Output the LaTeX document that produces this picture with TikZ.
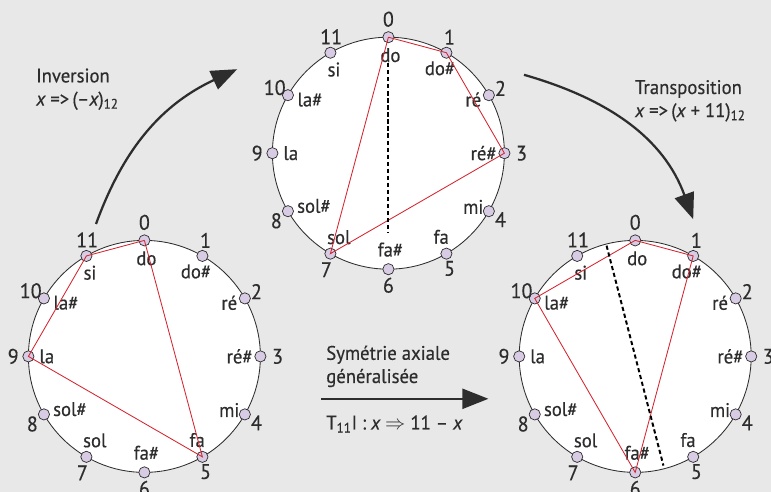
\documentclass[tikz,border=0pt]{standalone}
\usepackage{fontspec}
\setmainfont{PT Sans}[FakeStretch=0.95,FakeBold=0.4]
\usetikzlibrary{arrows.meta, positioning, calc}
\definecolor{BgGray}{RGB}{232,232,232}
\definecolor{InkGray}{RGB}{45,45,45}
\definecolor{Lilac}{RGB}{216,203,228}
\definecolor{ChordRed}{RGB}{212,36,46}

\begin{document}
\begin{tikzpicture}[
	pc/.style={circle,draw=InkGray,fill=Lilac,line width=0.5pt,minimum size=2.8mm,inner sep=0pt},
	num/.style={text=InkGray,font=\fontsize{15}{15}\selectfont,inner sep=0pt},
	nom/.style={text=InkGray,font=\fontsize{14}{14}\selectfont,inner sep=0pt},
	disque/.style={draw=InkGray,fill=white,line width=0.6pt},
	chord/.style={ChordRed,line width=0.6pt},
	axe/.style={black,line width=1.4pt,dash pattern=on 3pt off 2pt},
	fleche/.style={InkGray,line width=1.6pt,-{Triangle[length=6.5mm,width=5mm]}},
	legende/.style={text=InkGray,font=\fontsize{14}{16.5}\selectfont,align=left,inner sep=0pt}]
% background
\fill[BgGray] (0,0) rectangle (19.275,12.3);
\useasboundingbox (0,0) rectangle (19.275,12.3);
% three pitch-class circles
\foreach \c/\cx/\cy in {A/3.61/3.39, B/9.71/8.47, C/15.88/3.39} {
	\coordinate (\c) at (\cx,\cy);
	\draw[disque] (\c) circle (2.9);
	\foreach \k/\nom/\nx/\ny/\tx/\ty in {
		0/do/0/0.45/0.05/-0.45,        1/do\#/0.08/0.39/-0.16/-0.39,
		2/ré/0.29/0.17/-0.39/-0.11,    3/ré\#/0.43/0/-0.52/0,
		4/mi/0.29/-0.21/-0.39/0.11,    5/fa/0.08/-0.37/-0.13/0.42,
		6/fa\#/0/-0.4/0.05/0.49,       7/sol/-0.1/-0.4/0.21/0.41,
		8/sol\#/-0.29/-0.24/0.65/0.13, 9/la/-0.38/0/0.46/0,
		10/la\#/-0.33/0.19/0.55/-0.11, 11/si/0.02/0.4/0.09/-0.42} {
		\node[pc] (\c\k) at ($(\c)+({90-30*\k}:2.9)$) {};
		\node[num] (\c\k-num) at ($(\c\k)+(\nx,\ny)$) {\k};
		\node[nom] (\c\k-nom) at ($(\c\k)+(\tx,\ty)$) {\nom};
	}
}
% chords
\draw[chord] (A0.center)--(A11.center)--(A9.center)--(A5.center)--(A0.center);
\draw[chord] (B0.center)--(B1.center)--(B3.center)--(B7.center)--(B0.center);
\draw[chord] (C0.center)--(C1.center)--(C6.center)--(C10.center)--(C0.center);
% axes
\draw[axe] ($(B)+(0,2.25)$)--($(B)+(0,-2.0)$);
\draw[axe] ($(C)+(104.5:2.86)$)--($(C)+(-75.5:2.82)$);
% arrows
\coordinate (invA) at (2.4,6.7);
\coordinate (invB) at (5.93,10.57);
\draw[fleche] (invA) to[out=70,in=205] (invB);
\coordinate (trA) at (13.1,10.43);
\coordinate (trB) at (17.33,6.82);
\draw[fleche] (trA) to[out=-16,in=110] (trB);
\coordinate (symA) at (8.02,2.33);
\coordinate (symB) at (12.21,2.33);
\draw[fleche] (symA)--(symB);
% texts
\node[legende,anchor=west] (inv) at (0.9,10.07)
	{Inversion\\{\itshape x} =>\,(–{\itshape x})\textsubscript{12}};
\node[legende,anchor=west] (tr) at (15.87,9.78)
	{Transposition\\{\itshape x} =>\,({\itshape x} + 11)\textsubscript{12}};
\node[legende,anchor=west] (sym) at (8.15,3.14)
	{Symétrie axiale\\généralisée};
\node[legende,anchor=west] (tii) at (8.15,1.7)
	{T\textsubscript{11}I : {\itshape x} $\Rightarrow$ 11 – {\itshape x}};
\end{tikzpicture}
\end{document}
